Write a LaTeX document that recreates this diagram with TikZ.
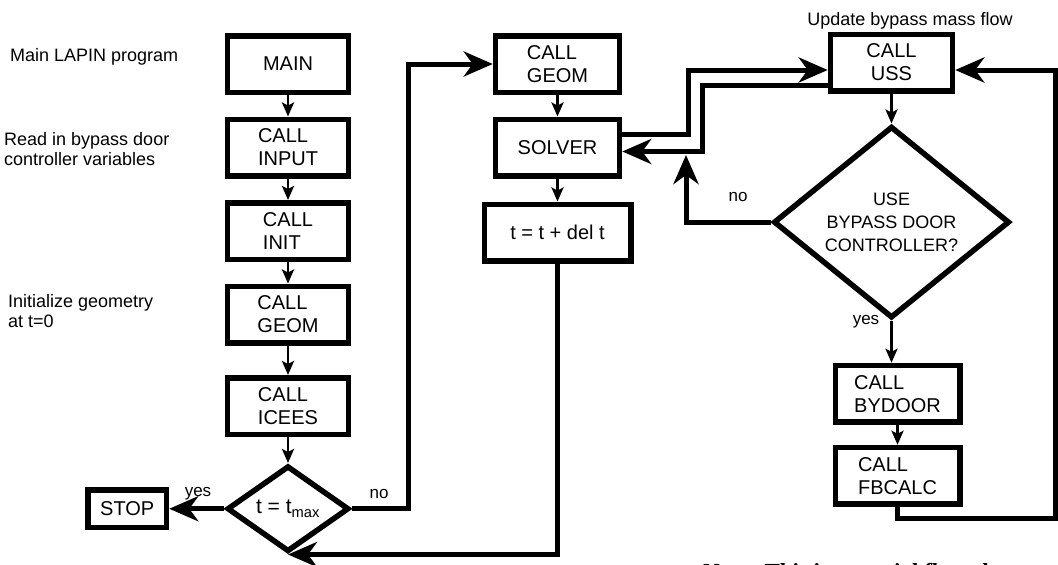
\documentclass[tikz,border=0pt]{standalone}
\usepackage{fontspec}
\setmainfont{Liberation Sans}
\newfontfamily\notefont{Liberation Serif}
\usetikzlibrary{arrows.meta,positioning,shapes.geometric}
\definecolor{Ink}{HTML}{000000}
\definecolor{Paper}{HTML}{FFFFFF}
\tikzset{
  box/.style={draw=Ink,fill=Paper,line width=5.5pt,minimum width=121pt,minimum height=56.5pt,align=left,font=\fontsize{20}{23}\selectfont,text=Ink,inner sep=2pt},
  decide/.style={draw=Ink,fill=Paper,diamond,line width=5.5pt,inner sep=0pt,align=center,font=\fontsize{18}{23}\selectfont,text=Ink},
  remark/.style={font=\fontsize{18}{20}\selectfont,text=Ink,align=left,inner sep=0pt},
  answer/.style={font=\fontsize{17}{18}\selectfont,text=Ink,inner sep=0pt},
  arr/.style={-{Stealth[length=14pt,width=12pt,inset=3pt]},draw=Ink,line width=2.6pt},
  bigarr/.style={-{Stealth[length=29pt,width=25pt,inset=9pt]},draw=Ink,line width=5pt}
}
\begin{document}
\begin{tikzpicture}[x=1pt,y=-1pt,node distance=21.5pt]
  \useasboundingbox[fill=Paper] (0,0) rectangle (1058,565);
  % left column
  \node[box,align=center] (main) at (288,64) {MAIN};
  \node[box,below=of main] (input) {CALL\\INPUT};
  \node[box,below=of input] (init) {CALL\\INIT};
  \node[box,below=of init] (geomA) {CALL\\GEOM};
  \node[box,below=29.5pt of geomA] (icees) {CALL\\ICEES};
  \node[decide,font=\fontsize{21}{23}\selectfont,minimum width=122pt,minimum height=86pt,below=26pt of icees] (tmax) {t = t\textsubscript{max}};
  \node[box,minimum width=78.5pt,minimum height=37.5pt,left=55pt of tmax] (stop) {STOP};
  \node[remark,anchor=west] (lblmain) at (10,57) {Main LAPIN program};
  \node[remark,anchor=west] (lblinput) at (4,149) {Read in bypass door\\ controller variables};
  \node[remark,anchor=west] (lblgeom) at (8,311) {Initialize geometry\\at t=0};
  % time loop
  \node[box,minimum width=124pt] (geomB) at (557.5,64) {CALL\\GEOM};
  \node[box,minimum width=124pt,below=of geomB] (solver) {SOLVER};
  \node[box,minimum width=146.5pt,below=23pt of solver] (tstep) {t = t + del t};
  % bypass door branch
  \node[box,align=center,minimum width=122pt] (uss) at (891.5,62.5) {CALL\\USS};
  \node[remark] (lbluss) at (910,21) {Update bypass mass flow};
  \node[decide,minimum width=236pt,minimum height=163pt,below=30pt of uss] (use) {USE\\BYPASS DOOR\\CONTROLLER?};
  \node[box,minimum width=124.5pt,below=42pt of use,xshift=6pt] (bydoor) {CALL\\BYDOOR};
  \node[box,minimum width=124.5pt,below=20pt of bydoor] (fbcalc) {CALL\\FBCALC};
  \node[answer] (yesA) at (198,494) {yes};
  \node[answer] (noA) at (379,494) {no};
  \node[answer] (noB) at (738,197) {no};
  \node[answer] (yesB) at (866,322) {yes};
  \coordinate (nojoin) at (686,155);
  \coordinate (loopcorner) at (1055,518);
  \draw[arr] (main) -- (input);
  \draw[arr] (input) -- (init);
  \draw[arr] (init) -- (geomA);
  \draw[arr] (geomA) -- (icees);
  \draw[arr] (icees) -- (tmax);
  \draw[bigarr] (tmax) -- (stop);
  \draw[bigarr] (tmax.east) -- ++(57,0) |- (geomB.west);
  \draw[arr] (geomB) -- (solver);
  \draw[arr] (solver) -- (tstep);
  \draw[bigarr] (tstep.south) |- (tmax.south);
  \draw[bigarr] ([yshift=13pt]solver.east) -- ++(66,0) |- ([yshift=-7.5pt]uss.west);
  \draw[bigarr] ([yshift=-22.5pt]uss.west) -- ++(-125,0) |- ([yshift=-4pt]solver.east);
  \draw[bigarr] (use.west) -| (nojoin);
  \draw[arr] (uss) -- (use);
  \draw[arr] (use.south) -- (use.south |- bydoor.north);
  \draw[arr] (bydoor) -- (fbcalc);
  \draw[bigarr] (fbcalc.south) |- (loopcorner) |- ([yshift=-7.5pt]uss.east);
  % footnote, cut by the page edge
  \begin{scope}
    \clip (0,0) rectangle (1058,565);
    \node[anchor=base west,inner sep=0pt,font=\notefont\bfseries\fontsize{23}{24}\selectfont] (footnote) at (703,579) {Note: This is a partial flow chart};
  \end{scope}
\end{tikzpicture}
\end{document}
